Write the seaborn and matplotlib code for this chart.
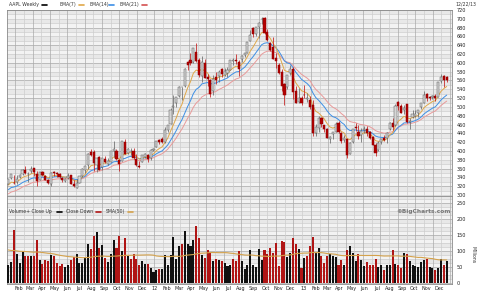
import numpy as np
import pandas as pd
import matplotlib
matplotlib.use("Agg")
import matplotlib.pyplot as plt
import seaborn as sns
from matplotlib.lines import Line2D

# ---------------- data (AAPL weekly, Jan 7 2011 .. Dec 20 2013) ----------------
week_end = pd.date_range("2011-01-07", periods=155, freq="W-FRI")

open_ = [325.6, 338.8, 327.0, 329.5, 339.8, 347.9, 357.5, 347.9, 355.5, 361.4,
         348.0, 335.0, 353.0, 343.6, 334.0, 326.0, 352.0, 351.0, 348.0, 338.0,
         331.0, 338.0, 345.0, 325.0, 317.0, 328.0, 343.0, 356.0, 367.0, 397.0,
         397.8, 368.0, 386.0, 364.0, 381.0, 370.0, 375.0, 400.0, 400.0, 380.0,
         378.0, 421.0, 396.0, 399.0, 400.0, 382.0, 365.0, 376.0, 387.0, 391.0,
         384.0, 403.0, 409.0, 425.0, 427.0, 421.0, 448.0, 462.0, 499.0, 508.0,
         524.0, 545.0, 548.0, 602.0, 606.0, 601.0, 625.0, 606.0, 571.0, 599.0,
         569.0, 562.0, 535.0, 569.0, 570.0, 585.0, 572.0, 578.0, 584.0, 605.0,
         606.0, 603.0, 608.0, 617.0, 623.0, 650.0, 679.0, 665.0, 681.0, 699.0,
         701.0, 671.0, 646.0, 635.0, 612.0, 595.0, 580.0, 551.0, 545.0, 577.0,
         586.0, 535.0, 512.0, 520.0, 528.0, 518.0, 516.0, 504.0, 440.0, 453.0,
         474.0, 458.0, 449.0, 428.0, 438.0, 444.0, 464.0, 441.0, 424.0, 427.0,
         393.0, 420.0, 454.0, 444.0, 436.0, 448.0, 450.0, 444.0, 431.0, 413.0,
         402.0, 420.0, 429.0, 430.0, 449.0, 464.0, 458.0, 511.0, 501.0, 493.0,
         506.0, 465.0, 478.0, 480.0, 486.0, 499.0, 510.0, 530.0, 522.0, 523.0,
         525.0, 523.0, 558.0, 570.0, 568.0]
high = [336.5, 348.8, 344.8, 344.4, 348.0, 360.0, 364.9, 352.0, 364.9, 361.7,
        355.0, 352.5, 354.3, 345.0, 336.0, 352.5, 354.0, 351.3, 350.0, 341.0,
        338.6, 349.0, 345.0, 334.0, 336.0, 344.0, 361.0, 366.0, 394.5, 404.5,
        402.0, 385.0, 388.0, 384.0, 387.5, 385.0, 400.5, 422.9, 404.0, 382.0,
        422.0, 426.7, 406.0, 406.0, 406.5, 394.0, 377.0, 391.0, 396.0, 394.0,
        404.0, 406.5, 423.0, 428.0, 431.0, 454.5, 460.0, 497.6, 526.3, 522.7,
        548.2, 546.0, 589.0, 604.0, 621.5, 634.0, 644.0, 610.0, 616.0, 608.9,
        574.0, 563.0, 573.0, 579.0, 584.0, 588.0, 589.0, 590.0, 607.0, 612.0,
        620.0, 607.0, 617.0, 622.8, 648.2, 674.0, 680.9, 682.5, 692.0, 705.0,
        703.0, 676.0, 647.0, 659.0, 623.0, 600.0, 586.0, 555.0, 572.0, 594.6,
        590.0, 547.0, 544.0, 524.0, 549.7, 531.0, 525.0, 516.0, 461.0, 479.0,
        478.0, 460.0, 451.0, 435.0, 444.0, 465.0, 469.0, 443.0, 437.0, 428.0,
        420.0, 450.5, 463.8, 458.0, 451.0, 457.0, 456.0, 446.0, 435.0, 418.0,
        423.0, 428.0, 436.0, 444.0, 465.0, 474.0, 507.0, 513.0, 507.0, 505.0,
        507.0, 474.0, 493.0, 493.0, 493.0, 509.0, 536.0, 531.0, 524.0, 528.0,
        529.0, 557.0, 575.0, 572.0, 571.0]
low = [324.8, 337.0, 326.0, 325.0, 337.8, 346.1, 348.0, 330.0, 349.4, 344.0,
       320.0, 333.0, 343.0, 335.0, 326.0, 320.0, 344.0, 342.0, 339.0, 330.0,
       329.8, 337.0, 325.8, 318.0, 315.0, 327.0, 342.0, 351.0, 360.0, 388.0,
       354.0, 353.0, 356.0, 356.0, 372.0, 367.0, 374.0, 387.0, 380.0, 354.0,
       377.0, 392.0, 393.0, 391.0, 382.0, 366.0, 362.0, 374.0, 384.0, 374.0,
       380.0, 401.0, 408.0, 415.0, 418.0, 417.0, 443.0, 461.0, 485.0, 500.0,
       522.0, 516.0, 546.0, 584.0, 594.0, 600.0, 601.0, 567.0, 556.0, 565.0,
       548.0, 522.0, 528.0, 553.0, 556.0, 567.0, 570.0, 568.0, 584.0, 596.0,
       598.0, 570.0, 603.0, 614.0, 622.0, 650.0, 659.0, 660.0, 656.0, 688.0,
       665.0, 650.0, 628.0, 608.0, 588.0, 574.0, 536.0, 505.0, 541.0, 572.0,
       518.0, 508.0, 508.0, 505.0, 521.0, 512.0, 495.0, 435.0, 435.0, 443.0,
       455.0, 442.0, 429.0, 419.0, 427.0, 443.0, 441.0, 419.0, 420.0, 385.0,
       392.0, 419.0, 446.0, 428.0, 420.0, 440.0, 433.0, 428.0, 413.0, 388.0,
       401.0, 416.0, 423.0, 418.0, 448.0, 447.0, 457.0, 493.0, 486.0, 484.0,
       463.0, 449.0, 475.0, 477.0, 477.0, 495.0, 509.0, 513.0, 515.0, 517.0,
       513.0, 522.0, 555.0, 546.0, 556.0]
close = [336.1, 348.5, 326.7, 336.1, 346.5, 356.9, 350.6, 348.2, 360.0, 352.0,
         330.7, 351.5, 344.6, 335.1, 327.5, 350.7, 350.1, 346.7, 340.5, 335.2,
         337.4, 343.4, 325.9, 320.3, 326.4, 343.3, 359.7, 364.9, 393.3, 390.5,
         373.6, 383.6, 356.0, 383.6, 374.1, 377.5, 400.5, 403.9, 381.3, 369.8,
         422.0, 392.9, 404.9, 400.2, 384.6, 369.0, 363.6, 389.7, 393.6, 381.0,
         403.3, 405.0, 422.4, 419.8, 420.3, 447.3, 459.7, 493.4, 502.6, 522.4,
         545.2, 545.1, 585.6, 596.1, 599.6, 633.7, 605.2, 573.0, 603.0, 565.3,
         564.2, 530.4, 562.3, 561.0, 580.3, 574.1, 582.1, 584.0, 605.9, 605.0,
         604.3, 585.2, 615.7, 621.7, 648.1, 663.2, 665.2, 680.4, 691.3, 700.1,
         667.1, 652.6, 629.7, 609.8, 604.0, 576.8, 547.1, 527.7, 571.5, 585.3,
         533.3, 509.8, 519.3, 509.6, 527.0, 520.3, 500.0, 439.9, 453.6, 475.0,
         460.2, 450.8, 430.5, 431.7, 443.7, 461.9, 442.7, 423.2, 429.8, 390.5,
         417.2, 450.0, 453.0, 433.3, 445.2, 449.7, 441.8, 430.1, 413.5, 396.5,
         417.4, 426.5, 425.0, 441.0, 462.5, 454.5, 502.3, 501.0, 487.2, 498.2,
         464.9, 467.4, 482.8, 483.0, 492.8, 508.9, 527.5, 520.0, 520.6, 525.0,
         519.8, 556.1, 568.0, 560.0, 561.0]
volume = [57, 65, 165, 92, 62, 96, 86, 86, 85, 83,
          135, 71, 60, 73, 70, 89, 84, 62, 54, 61,
          51, 57, 73, 80, 92, 62, 62, 78, 123, 107,
          148, 158, 109, 120, 78, 66, 92, 134, 111, 146,
          99, 140, 85, 76, 92, 76, 55, 68, 59, 61,
          47, 33, 42, 44, 43, 89, 55, 89, 143, 75,
          117, 123, 164, 123, 115, 133, 178, 141, 89, 78,
          102, 97, 70, 75, 73, 70, 62, 54, 55, 75,
          68, 99, 68, 45, 57, 102, 55, 51, 105, 73,
          104, 92, 108, 94, 126, 54, 132, 129, 82, 95,
          142, 121, 106, 47, 79, 84, 117, 144, 94, 109,
          86, 62, 84, 90, 85, 81, 57, 72, 57, 102,
          115, 95, 68, 91, 73, 53, 65, 57, 57, 75,
          50, 55, 41, 57, 55, 102, 60, 57, 47, 95,
          90, 68, 55, 54, 51, 65, 71, 76, 50, 47,
          40, 47, 76, 57, 68]
# weekly closes / volumes of 2010 (before the visible range) used to seed EMAs and SMA(50)
close_prior = [246.9, 259.6, 249.9, 259.9, 257.3, 260.1, 249.1, 249.6, 241.6, 258.8,
               263.4, 275.4, 292.3, 282.5, 294.1, 314.7, 307.5, 301.0, 317.1, 308.0,
               306.7, 315.0, 317.4, 320.6, 320.6, 323.3, 322.6]
volume_prior = [150, 170, 160, 120, 110, 105, 115, 130, 120, 95,
                105, 110, 140, 125, 115, 160, 175, 150, 130, 135,
                105, 110, 120, 125, 95, 90, 80, 85, 75, 80,
                90, 85, 100, 105, 95, 85, 95, 105, 90, 95,
                80, 85, 70, 75, 65, 60, 55, 50, 45]
price_ticks = list(range(300, 721, 20))
volume_ticks = [0, 50, 100, 150, 200, 250]

# ---------------- derived series ----------------
n = len(close)
x = np.arange(n)
o, h, l, c = map(np.asarray, (open_, high, low, close))
all_close = pd.Series(close_prior + close, dtype=float)
ema = {k: all_close.ewm(span=k, adjust=False).mean().to_numpy()[len(close_prior):] for k in (7, 14, 21)}
all_vol = pd.Series(volume_prior + volume, dtype=float)
sma50 = all_vol.rolling(50, min_periods=1).mean().to_numpy()[len(volume_prior):]
prev_close = np.array([close_prior[-1]] + close[:-1])
vol_up = c >= prev_close

# ---------------- figure ----------------
sns.set_style("white")
plt.rcParams["font.family"] = ["DejaVu Sans"]
W, H = 480, 292
fig = plt.figure(figsize=(W / 100, H / 100), dpi=100)
fig.patch.set_facecolor("white")

L, R = 7, 452
top1, split, bot2 = 9.5, 195.5, 283.5
ax1 = fig.add_axes([L / W, 1 - split / H, (R - L) / W, (split - top1) / H])
ax2 = fig.add_axes([L / W, 1 - bot2 / H, (R - L) / W, (bot2 - split) / H], sharex=ax1)

px_per_wk = (446.7 - 8.3) / (n - 1)
xlo = -(8.3 - L) / px_per_wk
xhi = (n - 1) + (R - 446.7) / px_per_wk

ylo1, yhi1 = 298.9, 721.1
ylo2, yhi2 = -1.5, 273.5

def draw_grid(ax, ylo, yhi, step, major_every):
    ax.set_facecolor("#f3f3f3")
    v = np.arange(np.ceil(ylo / step) * step, yhi + 0.01, step)
    for yy in v:
        k = int(round(yy / step))
        if k % 2 == 1:
            ax.axhspan(yy, yy + step, color="#e8e8e8", lw=0, zorder=0)
        col = "#aaaaaa" if k % major_every == 0 else "#cdcdcd"
        ax.axhline(yy, color=col, lw=0.5, zorder=0.5)
    sp = 8.7 / px_per_wk
    start = (67.3 - 8.3) / px_per_wk
    k0 = int(np.floor((xlo - start) / sp)) - 1
    k1 = int(np.ceil((xhi - start) / sp)) + 1
    for k in range(k0, k1):
        xx = start + k * sp
        if xlo < xx < xhi:
            col = "#aaaaaa" if k % 2 == 0 else "#cdcdcd"
            ax.axvline(xx, color=col, lw=0.5, zorder=0.5)

draw_grid(ax1, ylo1, yhi1, 10, 4)
draw_grid(ax2, ylo2, yhi2, 12.5, 4)

# candles
up = c >= o
wick_col = np.where(up, "#6a6a6a", "#c41a1a")
ax1.vlines(x, l, h, colors=wick_col, lw=0.55, zorder=3)
body_bot = np.minimum(o, c)
body_h = np.maximum(np.abs(c - o), 0.9)
ax1.bar(x, body_h, bottom=body_bot, width=0.75,
        color=np.where(up, "#d6d6d6", "#b30000"),
        edgecolor=np.where(up, "#5a5a5a", "#8c0000"), linewidth=0.35, zorder=4)

ema_cols = {7: "#e0a84a", 14: "#3d8fe6", 21: "#e89a9a"}
for k in (21, 14, 7):
    sns.lineplot(x=x, y=ema[k], ax=ax1, color=ema_cols[k], lw=0.7, zorder=2, legend=False)

# volume
ax2.bar(x, volume, width=0.72, color=np.where(vol_up, "#111111", "#b01515"), lw=0, zorder=3)
sns.lineplot(x=x, y=sma50, ax=ax2, color="#d4a24c", lw=0.8, zorder=4, legend=False)

tfs = 3.5
for ax, (ylo, yhi) in ((ax1, (ylo1, yhi1)), (ax2, (ylo2, yhi2))):
    ax.set_xlim(xlo, xhi)
    ax.set_ylim(ylo, yhi)
    ax.set_xlabel("")
    ax.set_ylabel("")
    ax.yaxis.tick_right()
    ax.tick_params(axis="y", length=0, pad=3.2, labelsize=tfs, labelcolor="#222222")
    for s in ax.spines.values():
        s.set_color("#8a8a8a")
        s.set_linewidth(0.6)

ax1.set_yticks(price_ticks)
ax1.set_yticklabels([str(t) for t in price_ticks])
ax2.set_yticks(volume_ticks)
ax2.set_yticklabels([str(t) for t in volume_ticks])
ax1.tick_params(axis="x", bottom=False, labelbottom=False)

# month labels
month_starts = pd.date_range("2011-02-01", "2013-12-01", freq="MS")
mpos = [(d - week_end[0]).days / 7.0 for d in month_starts]
mlab = [("%02d" % (d.year % 100)) if d.month == 1 else d.strftime("%b") for d in month_starts]
ax2.set_xticks(mpos)
ax2.set_xticklabels(mlab)
ax2.tick_params(axis="x", length=0, pad=1.8, labelsize=tfs, labelcolor="#222222")

# texts / legends
fs = 3.3
def fy(py):
    return 1 - py / H
def legend_item(x_text, x_line, py, label, color):
    fig.text(x_text / W, fy(py), label, fontsize=fs, va="center", ha="left", color="#333333")
    fig.add_artist(Line2D([x_line / W, (x_line + 5) / W], [fy(py)] * 2, color=color, lw=1.2))

legend_item(9, 42, 4.5, "AAPL Weekly", "black")
legend_item(60, 79, 4.5, "EMA(7)", ema_cols[7])
legend_item(89, 109, 4.5, "EMA(14)", ema_cols[14])
legend_item(120, 142, 4.5, "EMA(21)", "#d45050")
fig.text(455 / W, fy(4), "12/22/13", fontsize=fs, va="center", ha="left", color="#333333")

legend_item(9, 57, 211.5, "Volume+ Close Up", "black")
legend_item(66, 96, 211.5, "Close Down", "#b01515")
legend_item(106, 128, 211.5, "SMA(50)", "#d4a24c")
fig.text(423 / W, fy(212), "\u00a9BigCharts.com", fontsize=4.2, va="center", ha="center",
         color="#777777", fontweight="bold")
fig.text(472.5 / W, fy(255), "Millions", fontsize=fs, va="center", ha="center",
         rotation=270, color="#333333")

fig.savefig("out.png", dpi=100, facecolor="white")
